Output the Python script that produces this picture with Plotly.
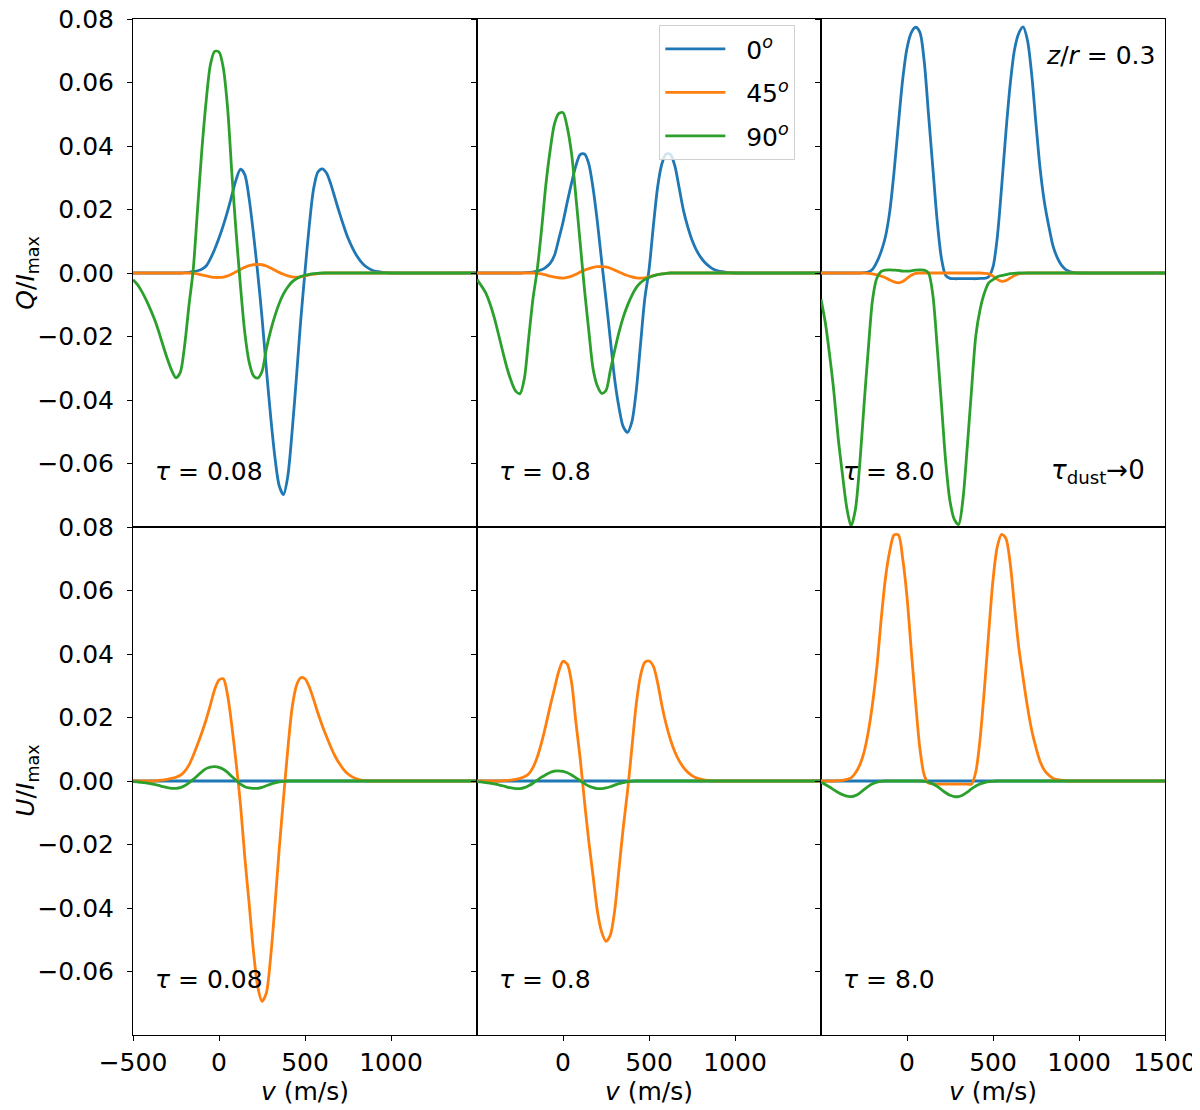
import plotly.graph_objects as go
from plotly.subplots import make_subplots


# Velocity grid (m/s), shared by every curve
V = [-500, -475, -450, -425, -400, -375, -350, -325, -300, -275,
     -250, -225, -200, -175, -150, -125, -100, -75, -50, -25,
     0, 25, 50, 75, 100, 125, 150, 175, 200, 225,
     250, 275, 300, 325, 350, 375, 400, 425, 450, 475,
     500, 525, 550, 575, 600, 625, 650, 675, 700, 725,
     750, 775, 800, 825, 850, 875, 900, 925, 950, 975,
     1000, 1500]

# leading no-break spaces push the legend text away from the line sample
ANGLES = ["\u00a0\u00a00<sup><i>o</i></sup>", "\u00a0\u00a045<sup><i>o</i></sup>",
          "\u00a0\u00a090<sup><i>o</i></sup>"]
TAUS = ["0.08", "0.8", "8.0"]
COLORS = ["#1f77b4", "#ff7f0e", "#2ca02c"]

# ---- Q / I_max (top row) ----
q_008_0 = [0, 0, 0, 0, 0, 0, 0, 0, 0, 0,
           0, 0, 0.0001, 0.0002, 0.0004, 0.0007, 0.0012, 0.0022, 0.0045, 0.0075,
           0.011, 0.015, 0.0195, 0.0245, 0.0295, 0.0327, 0.031, 0.0235, 0.0125, 0.0,
           -0.014, -0.030, -0.045, -0.058, -0.067, -0.0698, -0.064, -0.050, -0.033, -0.015,
           0.0005, 0.015, 0.0265, 0.0318, 0.0328, 0.0315, 0.028, 0.0235, 0.019, 0.0148,
           0.011, 0.008, 0.0055, 0.0036, 0.0022, 0.0013, 0.0007, 0.0004, 0.0002, 0.0001,
           0, 0]
q_008_45 = [0, 0, 0, 0, 0, 0, 0, 0, 0, 0,
            0, 0, 0, 0, -0.0001, -0.0003, -0.0006, -0.0009, -0.0012, -0.0014,
            -0.0014, -0.0013, -0.0009, -0.0003, 0.0004, 0.0011, 0.0018, 0.0023, 0.0026, 0.0027,
            0.0026, 0.0022, 0.0016, 0.0009, 0.0002, -0.0004, -0.0009, -0.0012, -0.0013, -0.0012,
            -0.0009, -0.0006, -0.0004, -0.0002, -0.0001, 0, 0, 0, 0, 0,
            0, 0, 0, 0, 0, 0, 0, 0, 0, 0,
            0, 0]
q_008_90 = [-0.0021, -0.0036, -0.0057, -0.0083, -0.0113, -0.0146, -0.0185, -0.0229, -0.0271, -0.0307,
            -0.033, -0.0313, -0.0229, -0.0104, 0.001, 0.0198, 0.0385, 0.054, 0.0656, 0.0698,
            0.0696, 0.0646, 0.052, 0.0312, 0.0125, -0.0042, -0.0188, -0.028, -0.0323, -0.0331,
            -0.031, -0.024, -0.0182, -0.0135, -0.0096, -0.0066, -0.0044, -0.0028, -0.0018, -0.0011,
            -0.0007, -0.0004, -0.0002, -0.0001, 0, 0, 0, 0, 0, 0,
            0, 0, 0, 0, 0, 0, 0, 0, 0, 0,
            0, 0]

q_08_0 = [0, 0, 0, 0, 0, 0, 0, 0, 0, 0,
          0, 0.0001, 0.0002, 0.0003, 0.0006, 0.001, 0.0018, 0.003, 0.0055, 0.0106,
          0.016, 0.0224, 0.0284, 0.0338, 0.0373, 0.0375, 0.0344, 0.0266, 0.016, 0.0036,
          -0.0083, -0.0208, -0.0333, -0.0422, -0.0484, -0.0502, -0.047, -0.0375, -0.0229, -0.0083,
          0.001, 0.0146, 0.027, 0.0344, 0.0375, 0.0373, 0.0338, 0.0269, 0.0198, 0.0146,
          0.0104, 0.0073, 0.005, 0.0033, 0.0021, 0.0012, 0.0007, 0.0004, 0.0002, 0.0001,
          0, 0]
q_08_45 = [0, 0, 0, 0, 0, 0, 0, 0, 0, 0,
           0, 0, 0, 0, -0.0001, -0.0003, -0.0006, -0.001, -0.0013, -0.0015,
           -0.0016, -0.0014, -0.001, -0.0004, 0.0003, 0.0009, 0.0014, 0.0018, 0.002, 0.002,
           0.0019, 0.0015, 0.0009, 0.0003, -0.0003, -0.0008, -0.0012, -0.0015, -0.0016, -0.0015,
           -0.0012, -0.0008, -0.0005, -0.0003, -0.0001, 0, 0, 0, 0, 0,
           0, 0, 0, 0, 0, 0, 0, 0, 0, 0,
           0, 0]
q_08_90 = [-0.0021, -0.004, -0.0062, -0.0096, -0.014, -0.0193, -0.0248, -0.030, -0.0342, -0.0372,
           -0.038, -0.0333, -0.0208, -0.0083, 0.001, 0.0135, 0.0276, 0.0385, 0.0469, 0.0502,
           0.0505, 0.0458, 0.0375, 0.024, 0.0094, -0.0052, -0.0182, -0.0302, -0.0356, -0.0379,
           -0.037, -0.0307, -0.0245, -0.0188, -0.014, -0.0102, -0.0071, -0.0047, -0.0031, -0.0021,
           -0.0014, -0.0009, -0.0005, -0.0003, -0.0001, 0, 0, 0, 0, 0,
           0, 0, 0, 0, 0, 0, 0, 0, 0, 0,
           0, 0]

q_80_0 = [0, 0, 0, 0, 0, 0, 0, 0, 0, 0,
          0.0001, 0.0003, 0.0012, 0.0035, 0.0068, 0.0115, 0.0195, 0.032, 0.0469, 0.061,
          0.0708, 0.0757, 0.0774, 0.0758, 0.0667, 0.05, 0.0333, 0.0167, 0.0047, -0.0008,
          -0.0017, -0.0018, -0.0018, -0.0018, -0.0018, -0.0018, -0.0018, -0.0017, -0.0017, -0.0012,
          0.0019, 0.0113, 0.027, 0.0443, 0.0594, 0.0703, 0.0755, 0.0775, 0.0734, 0.0625,
          0.0469, 0.0323, 0.0219, 0.0146, 0.0083, 0.0047, 0.0023, 0.001, 0.0004, 0.0001,
          0, 0]
q_80_45 = [0, 0, 0, 0, 0, 0, 0, 0, 0, 0,
           0, -0.0001, -0.0003, -0.0006, -0.001, -0.0015, -0.0022, -0.0028, -0.0031, -0.0027,
           -0.0017, -0.0007, -0.0001, 0, 0, 0, 0, 0, 0, 0,
           0, 0, 0, 0, 0, 0, 0, 0, -0.0001, -0.0003,
           -0.001, -0.002, -0.0026, -0.0024, -0.0016, -0.0008, -0.0003, -0.0001, 0, 0,
           0, 0, 0, 0, 0, 0, 0, 0, 0, 0,
           0, 0]
q_80_90 = [-0.0083, -0.0156, -0.0258, -0.0375, -0.052, -0.0635, -0.074, -0.0797, -0.0745, -0.0604,
           -0.0417, -0.024, -0.0083, -0.0016, 0.0005, 0.0009, 0.001, 0.0009, 0.0008, 0.0006,
           0.0006, 0.0007, 0.0009, 0.001, 0.0009, 0.0, -0.0068, -0.0229, -0.0411, -0.0594,
           -0.0719, -0.0776, -0.0792, -0.0714, -0.055, -0.037, -0.0198, -0.0115, -0.0063, -0.0031,
           -0.0021, -0.0012, -0.0008, -0.0005, -0.0002, -0.0001, 0, 0, 0, 0,
           0, 0, 0, 0, 0, 0, 0, 0, 0, 0,
           0, 0]

# ---- U / I_max (bottom row) ----
u_0 = [0, 0, 0, 0, 0, 0, 0, 0, 0, 0,
       0, 0, 0, 0, 0, 0, 0, 0, 0, 0,
       0, 0, 0, 0, 0, 0, 0, 0, 0, 0,
       0, 0, 0, 0, 0, 0, 0, 0, 0, 0,
       0, 0, 0, 0, 0, 0, 0, 0, 0, 0,
       0, 0, 0, 0, 0, 0, 0, 0, 0, 0,
       0, 0]

u_008_45 = [0, 0, 0, 0, 0, 0, 0.0002, 0.0003, 0.0005, 0.0008,
            0.0012, 0.0018, 0.003, 0.005, 0.008, 0.0115, 0.0152, 0.0193, 0.024, 0.0288,
            0.0318, 0.0322, 0.027, 0.0172, 0.0055, -0.0075, -0.024, -0.0385, -0.0535, -0.0647,
            -0.0694, -0.0668, -0.0556, -0.0394, -0.0215, -0.0055, 0.010, 0.023, 0.030, 0.0325,
            0.0322, 0.0296, 0.0257, 0.0214, 0.0175, 0.014, 0.0107, 0.0078, 0.0055, 0.0036,
            0.0022, 0.0013, 0.0007, 0.0003, 0.0001, 0, 0, 0, 0, 0,
            0, 0]
u_008_90 = [-0.0002, -0.0003, -0.0004, -0.0006, -0.0008, -0.0011, -0.0014, -0.0018, -0.0021, -0.0023,
            -0.0023, -0.0021, -0.0015, -0.0006, 0.0005, 0.0017, 0.0029, 0.0039, 0.0044, 0.0045,
            0.0043, 0.0037, 0.0027, 0.0014, 0.0002, -0.001, -0.0018, -0.0022, -0.0023, -0.0023,
            -0.002, -0.0015, -0.001, -0.0006, -0.0003, -0.0001, 0, 0, 0, 0,
            0, 0, 0, 0, 0, 0, 0, 0, 0, 0,
            0, 0, 0, 0, 0, 0, 0, 0, 0, 0,
            0, 0]

u_08_45 = [0, 0, 0, 0, 0, 0, 0.0001, 0.0002, 0.0003, 0.0005,
           0.0008, 0.0013, 0.0022, 0.0042, 0.0075, 0.012, 0.0175, 0.0235, 0.029, 0.0345,
           0.0377, 0.0368, 0.031, 0.0185, 0.007, -0.0065, -0.019, -0.030, -0.041, -0.0476,
           -0.0505, -0.0486, -0.041, -0.028, -0.0148, -0.0033, 0.0102, 0.0238, 0.033, 0.0373,
           0.0378, 0.0362, 0.031, 0.0238, 0.0178, 0.013, 0.0092, 0.0064, 0.0043, 0.0028,
           0.0017, 0.001, 0.0006, 0.0003, 0.0001, 0, 0, 0, 0, 0,
           0, 0]
u_08_90 = [-0.0002, -0.0003, -0.0005, -0.0007, -0.0009, -0.0012, -0.0015, -0.0019, -0.0022, -0.0024,
           -0.0024, -0.0021, -0.0015, -0.0007, 0.0003, 0.0012, 0.002, 0.0027, 0.0031, 0.0032,
           0.003, 0.0026, 0.0019, 0.001, 0.0001, -0.0008, -0.0016, -0.0021, -0.0024, -0.0024,
           -0.0022, -0.0018, -0.0013, -0.0008, -0.0005, -0.0002, -0.0001, 0, 0, 0,
           0, 0, 0, 0, 0, 0, 0, 0, 0, 0,
           0, 0, 0, 0, 0, 0, 0, 0, 0, 0,
           0, 0]

u_80_45 = [0, 0, 0, 0, 0.0001, 0.0002, 0.0005, 0.001, 0.0025, 0.005,
           0.009, 0.0155, 0.0245, 0.036, 0.051, 0.064, 0.0725, 0.0775, 0.0775, 0.070,
           0.058, 0.041, 0.0248, 0.0102, 0.0019, -0.0007, -0.0009, -0.001, -0.001, -0.001,
           -0.001, -0.001, -0.001, -0.001, -0.001, -0.001, 0.0029, 0.0133, 0.029, 0.0467,
           0.0633, 0.0738, 0.0777, 0.0764, 0.0685, 0.055, 0.042, 0.0325, 0.0235, 0.016,
           0.0105, 0.006, 0.0033, 0.0018, 0.0008, 0.0004, 0.0002, 0.0001, 0, 0,
           0, 0]
u_80_90 = [-0.0004, -0.0011, -0.0019, -0.0028, -0.0036, -0.0043, -0.0048, -0.0049, -0.0046, -0.0038,
           -0.0027, -0.0017, -0.0009, -0.0004, -0.0001, 0, 0, 0, 0, 0,
           0, 0, 0, 0, -0.0001, -0.0004, -0.0009, -0.0017, -0.0027, -0.0037,
           -0.0045, -0.0049, -0.0049, -0.0044, -0.0035, -0.0025, -0.0016, -0.0009, -0.0005, -0.0002,
           -0.0001, 0, 0, 0, 0, 0, 0, 0, 0, 0,
           0, 0, 0, 0, 0, 0, 0, 0, 0, 0,
           0, 0]

# (row, col) -> the three curves 0, 45, 90 degrees
PANELS = {
    (1, 1): [q_008_0, q_008_45, q_008_90],
    (1, 2): [q_08_0, q_08_45, q_08_90],
    (1, 3): [q_80_0, q_80_45, q_80_90],
    (2, 1): [u_0, u_008_45, u_008_90],
    (2, 2): [u_0, u_08_45, u_08_90],
    (2, 3): [u_0, u_80_45, u_80_90],
}

XTICKS = {1: [-500, 0, 500, 1000], 2: [0, 500, 1000], 3: [0, 500, 1000, 1500]}
YTICKS = [-0.06, -0.04, -0.02, 0.0, 0.02, 0.04, 0.06, 0.08]
YTITLES = ["<i>Q</i>/<i>I</i><sub>max</sub>", "<i>U</i>/<i>I</i><sub>max</sub>"]

FONT = "DejaVu Sans"
FS = 25

for key, curves in PANELS.items():
    for c in curves:
        if len(c) != len(V):
            raise ValueError(f"bad length in panel {key}: {len(c)}")

fig = make_subplots(rows=2, cols=3, shared_xaxes=True, shared_yaxes=True,
                    horizontal_spacing=0, vertical_spacing=0)

for (row, col), curves in PANELS.items():
    for i, y in enumerate(curves):
        fig.add_trace(go.Scatter(
            x=V, y=y,
            mode="lines",
            line=dict(color=COLORS[i], width=2.8, shape="spline", smoothing=0.8),
            name=ANGLES[i],
            legendgroup=ANGLES[i],
            showlegend=(row == 1 and col == 1),
        ), row=row, col=col)

    # tau label in the lower left of every panel
    fig.add_annotation(x=-385, y=-0.0625, text=f"<i>τ</i> = {TAUS[col - 1]}",
                       showarrow=False, xanchor="left", yanchor="middle",
                       font=dict(family=FONT, size=FS, color="black"),
                       row=row, col=col)

fig.add_annotation(x=1455, y=0.0685, text="<i>z</i>/<i>r</i> = 0.3",
                   showarrow=False, xanchor="right", yanchor="middle",
                   font=dict(family=FONT, size=FS, color="black"), row=1, col=3)
fig.add_annotation(x=1395, y=-0.0625, text="<i>τ</i><sub>dust</sub>→0",
                   showarrow=False, xanchor="right", yanchor="middle",
                   font=dict(family=FONT, size=FS + 1, color="black"), row=1, col=3)

# y axis titles as rotated paper annotations (closer to the edge than axis titles allow)
for k, title in enumerate(YTITLES):
    fig.add_annotation(x=-0.103, y=0.75 - 0.5 * k, xref="paper", yref="paper",
                       text=title, textangle=-90, showarrow=False,
                       xanchor="center", yanchor="middle",
                       font=dict(family=FONT, size=FS, color="black"))

axis_style = dict(showline=True, mirror=True, linecolor="black", linewidth=1,
                  ticks="outside", ticklen=5, tickwidth=1, tickcolor="black",
                  showgrid=False, zeroline=False, automargin=False,
                  ticklabeloverflow="allow",
                  tickfont=dict(family=FONT, size=FS, color="black"))

fig.update_xaxes(range=[-500, 1500], **axis_style)
fig.update_yaxes(range=[-0.08, 0.08], tickvals=YTICKS, tickformat=".2f",
                 ticklabelstandoff=8, **axis_style)

for col in (1, 2, 3):
    fig.update_xaxes(ticks="", showticklabels=False, row=1, col=col)
    fig.update_xaxes(tickvals=XTICKS[col], row=2, col=col,
                     title=dict(text="<i>v</i> (m/s)", standoff=4,
                                font=dict(family=FONT, size=FS, color="black")))
    if col > 1:
        fig.update_yaxes(showticklabels=False, row=1, col=col)
        fig.update_yaxes(showticklabels=False, row=2, col=col)

# the page body adds an 8 px offset, so the figure is a little smaller than the window
fig.update_layout(
    width=1190, height=1102,
    margin=dict(l=125, r=33, t=11, b=75),
    plot_bgcolor="white", paper_bgcolor="white",
    font=dict(family=FONT, size=FS, color="black"),
    legend=dict(x=0.51, y=0.994, xanchor="left", yanchor="top",
                bgcolor="rgba(255,255,255,0.8)", bordercolor="#d0d0d0", borderwidth=1,
                font=dict(family=FONT, size=FS, color="black"),
                itemwidth=60,
                traceorder="grouped", tracegroupgap=8),
)

fig.write_html("out.html")
